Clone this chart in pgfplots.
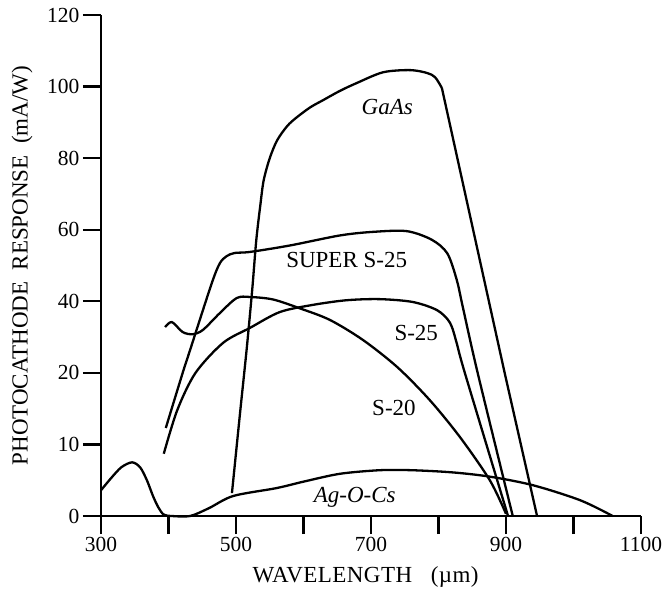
\documentclass[border=0pt]{standalone}
\usepackage{fontspec}
\setmainfont{Liberation Serif}
\usepackage{pgfplots}
\pgfplotsset{compat=1.18}

\begin{document}
\begin{tikzpicture}
\begin{axis}[
  scale only axis, width=540pt, height=501pt,
  xmin=300, xmax=1100, ymin=0, ymax=120,
  axis lines=left, axis line style={-, line width=2.6pt},
  % the printed scale is stretched: 0-20 takes twice the room of 20-40
  y coord trafo/.code={\pgfmathparse{min(#1,20)+max(#1-20,0)/2}},
  y coord inv trafo/.code={\pgfmathparse{min(#1,20)+2*max(#1-20,0)}},
  ytick={0,10,20,40,60,80,100,120},
  yticklabels={0,10,20,40,60,80,100,120},
  xtick={300,400,...,1100},
  xticklabels={300,,500,,700,,900,,1100},
  tick align=outside, major tick length=18pt,
  tick style={line width=2.4pt, black},
  tick label style={font=\fontsize{21.5}{24}\selectfont},
  /pgf/number format/assume math mode=true,
  every axis y label/.style={at={(axis description cs:-0.1463,0.5)}, rotate=90, anchor=center},
  every axis x label/.style={at={(axis description cs:0.49,-0.1218)}, anchor=center},
  ylabel={{PHOTOCATHODE\ \ RESPONSE\ \ (mA\slash W)}},
  xlabel={{\addfontfeature{LetterSpace=2}WAVELENGTH\ \ \ (µm)}},
  label style={font=\fontsize{23}{26}\selectfont},
  every axis plot/.append style={line width=2.3pt, black},
  clip=false,
]
% Ag-O-Cs (with its UV bump)
\addplot[smooth, tension=0.5] coordinates {
(300,3.6)(315,5.3)(330,6.8)(346,7.5)(358,6.8)(368,5.0)(377,2.8)(385,1.2)(393,0.2)
(405,0)(432,0)(460,1.1)(496,2.8)(560,3.9)(600,4.8)(654,5.9)(713,6.4)(760,6.4)
(820,6.1)(876,5.5)(940,4.3)(1010,2.2)(1058,0)};
% S-20
\addplot[smooth, tension=0.5] coordinates {
(395,32.8)(405,34.2)(421,31.4)(436,30.8)(451,32)(476,36.7)(501,40.9)(521,41.2)
(555,40.5)(595,38)(639,34.8)(688,29.2)(739,21.6)(787,16.2)(832,11)(876,5)(900,0.3)};
% S-25
\addplot[smooth, tension=0.5] coordinates {
(393,8.7)(413,14.8)(440,20)(481,28.4)(521,32.6)(565,37)(614,39)(664,40.3)(713,40.6)
(762,39.8)(798,37.5)(817,34)(827,28.3)(839,20)(903,0)};
% SUPER S-25
\addplot[smooth, tension=0.5] coordinates {
(396,12.3)(421,20)(432,26.4)(464,45)(476,50.6)(486,52.6)(498,53.5)(521,53.8)(580,55.6)
(654,58.4)(703,59.4)(753,59.6)(790,57.2)(813,53.4)(827,46)(836,38.4)(858,20)(910,0)};
% GaAs
\addplot[smooth, tension=0.5] coordinates {
(494,3.2)(506,14.4)(516,27)(524,43.2)(530,57)(536,66.8)(541,73.8)(550,80)(561,85)
(576,89)(590,91.4)(610,94.2)(629,96.2)(654,98.8)(679,101)(718,104)(758,104.6)
(783,103.8)(795,102.6)(805,99.6)};
\addplot[sharp plot] coordinates {(805,99.6)(898,20)(946,0)};
% curve names
\begin{scope}[font=\fontsize{23}{26}\selectfont]
\node at (axis cs:724,94.2) {\itshape GaAs};
\node at (axis cs:664,51.5) {SUPER S-25};
\node at (axis cs:767,31.1) {S-25};
\node at (axis cs:734,15.1) {S-20};
\node at (axis cs:676,2.65) {\itshape Ag-O-Cs};
\end{scope}
\end{axis}
\pgfresetboundingbox
\path ([shift={(-101pt,-75pt)}]current axis.south west) rectangle ([shift={(27pt,15pt)}]current axis.north east);
\end{tikzpicture}
\end{document}
